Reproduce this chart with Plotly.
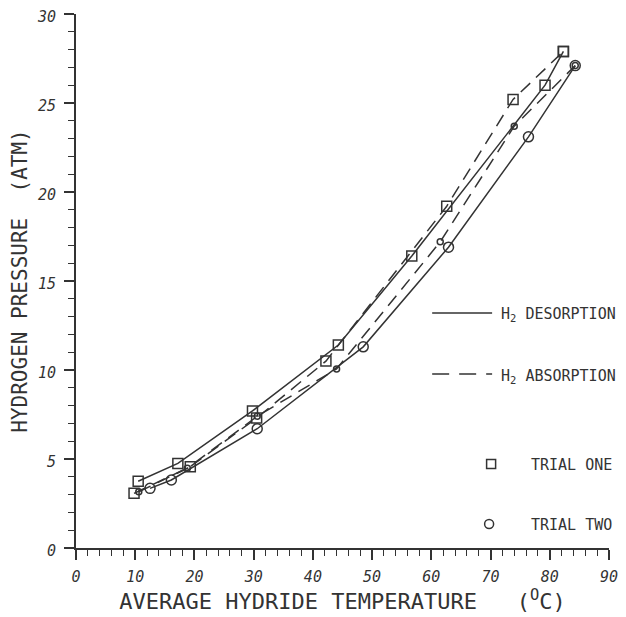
import plotly.graph_objects as go

# ---- data ----
t1_des_x = [10.5, 17.2, 29.8, 44.3, 56.7, 79.2, 82.3]
t1_des_y = [3.75, 4.75, 7.7, 11.4, 16.4, 26.0, 27.9]

t1_abs_x = [9.8, 19.3, 30.5, 42.2, 62.6, 73.8, 82.3]
t1_abs_y = [3.07, 4.57, 7.3, 10.5, 19.2, 25.2, 27.9]

t2_des_x = [12.5, 16.1, 30.6, 48.5, 62.9, 76.4, 84.3]
t2_des_y = [3.35, 3.82, 6.7, 11.3, 16.9, 23.1, 27.1]

t2_abs_x = [10.6, 18.8, 30.6, 44.0, 61.5, 74.0, 84.3]
t2_abs_y = [3.16, 4.48, 7.4, 10.06, 17.2, 23.7, 27.1]

x_ticks = [0, 10, 20, 30, 40, 50, 60, 70, 80, 90]
y_ticks = [0, 5, 10, 15, 20, 25, 30]

INK = "#333333"
FONT = "DejaVu Sans Mono"
DASH = "13px,8px"

# page body has an 8px margin, so the figure is placed at (8, 8)
OFF = 8
W, H = 626 - OFF, 617 - OFF
PL, PR, PT, PB = 75.5, 609.0, 14.0, 548.0  # plot area in window pixels

fig = go.Figure()

def add(x, y, dash, symbol, size):
    fig.add_trace(go.Scatter(
        x=x, y=y, mode="lines+markers",
        line=dict(color=INK, width=1.5, dash=dash),
        marker=dict(symbol=symbol, size=size, color=INK,
                    line=dict(color=INK, width=1.5)),
        showlegend=False, hoverinfo="skip"))

add(t1_des_x, t1_des_y, "solid", "square-open", 10)
add(t1_abs_x, t1_abs_y, DASH, "square-open", 10)
add(t2_des_x, t2_des_y, "solid", "circle-open", 10)
add(t2_abs_x, t2_abs_y, DASH, "circle-open", 6)

# ---- custom legend (paper coords from window pixels) ----
def px2x(px):
    return (px - PL) / (PR - PL)

def px2y(py):
    return (PB - py) / (PB - PT)

fig.add_shape(type="line", xref="paper", yref="paper",
              x0=px2x(432), x1=px2x(492), y0=px2y(313), y1=px2y(313),
              line=dict(color=INK, width=1.5))
fig.add_shape(type="line", xref="paper", yref="paper",
              x0=px2x(432), x1=px2x(492), y0=px2y(374), y1=px2y(374),
              line=dict(color=INK, width=1.5, dash="17px,10px"))

legend_font = dict(family=FONT, size=15, color=INK)
fig.add_annotation(xref="paper", yref="paper", x=px2x(499), y=px2y(315),
                   text="H<sub>2</sub> DESORPTION", showarrow=False,
                   xanchor="left", yanchor="middle", font=legend_font)
fig.add_annotation(xref="paper", yref="paper", x=px2x(499), y=px2y(376),
                   text="H<sub>2</sub> ABSORPTION", showarrow=False,
                   xanchor="left", yanchor="middle", font=legend_font)
fig.add_annotation(xref="paper", yref="paper", x=px2x(529), y=px2y(465),
                   text="TRIAL ONE", showarrow=False,
                   xanchor="left", yanchor="middle", font=legend_font)
fig.add_annotation(xref="paper", yref="paper", x=px2x(529), y=px2y(525),
                   text="TRIAL TWO", showarrow=False,
                   xanchor="left", yanchor="middle", font=legend_font)

fig.add_trace(go.Scatter(
    x=[px2x(491)], y=[px2y(464)], xaxis="x2", yaxis="y2", mode="markers",
    marker=dict(symbol="square-open", size=9, color=INK, line=dict(color=INK, width=1.5)),
    showlegend=False, hoverinfo="skip"))
fig.add_trace(go.Scatter(
    x=[px2x(489)], y=[px2y(524)], xaxis="x2", yaxis="y2", mode="markers",
    marker=dict(symbol="circle-open", size=9, color=INK, line=dict(color=INK, width=1.5)),
    showlegend=False, hoverinfo="skip"))

tick_font = dict(family=FONT, size=15, color=INK, style="italic")

fig.update_layout(
    width=W, height=H,
    margin=dict(l=PL - OFF, r=W - (PR - OFF), t=PT - OFF, b=H - (PB - OFF)),
    paper_bgcolor="white", plot_bgcolor="white",
    xaxis=dict(
        range=[0, 90], tickvals=x_ticks, ticktext=[str(v) for v in x_ticks],
        showline=True, linecolor=INK, linewidth=2, showgrid=False, zeroline=False,
        ticks="outside", ticklen=10, tickwidth=1.5, tickcolor=INK,
        minor=dict(dtick=2, ticks="outside", ticklen=6, tickwidth=1.2, tickcolor=INK, showgrid=False),
        tickfont=tick_font, ticklabelstandoff=4, automargin=False,
        ticklabeloverflow="allow",
        title=dict(text="AVERAGE HYDRIDE TEMPERATURE   (<sup>O</sup>C)",
                   font=dict(family=FONT, size=22, color=INK), standoff=8),
    ),
    yaxis=dict(
        range=[0, 30], tickvals=y_ticks, ticktext=[str(v) for v in y_ticks],
        showline=True, linecolor=INK, linewidth=2, showgrid=False, zeroline=False,
        ticks="outside", ticklen=10, tickwidth=1.5, tickcolor=INK,
        minor=dict(dtick=1, ticks="outside", ticklen=6, tickwidth=1.2, tickcolor=INK, showgrid=False),
        tickfont=tick_font, ticklabelstandoff=5, ticklabelshift=3, automargin=False,
        ticklabeloverflow="allow",
        title=dict(text="HYDROGEN PRESSURE  (ATM)",
                   font=dict(family=FONT, size=21, color=INK), standoff=7),
    ),
    xaxis2=dict(range=[0, 1], overlaying="x", visible=False, fixedrange=True),
    yaxis2=dict(range=[0, 1], overlaying="y", visible=False, fixedrange=True),
)

fig.write_html("out.html")
